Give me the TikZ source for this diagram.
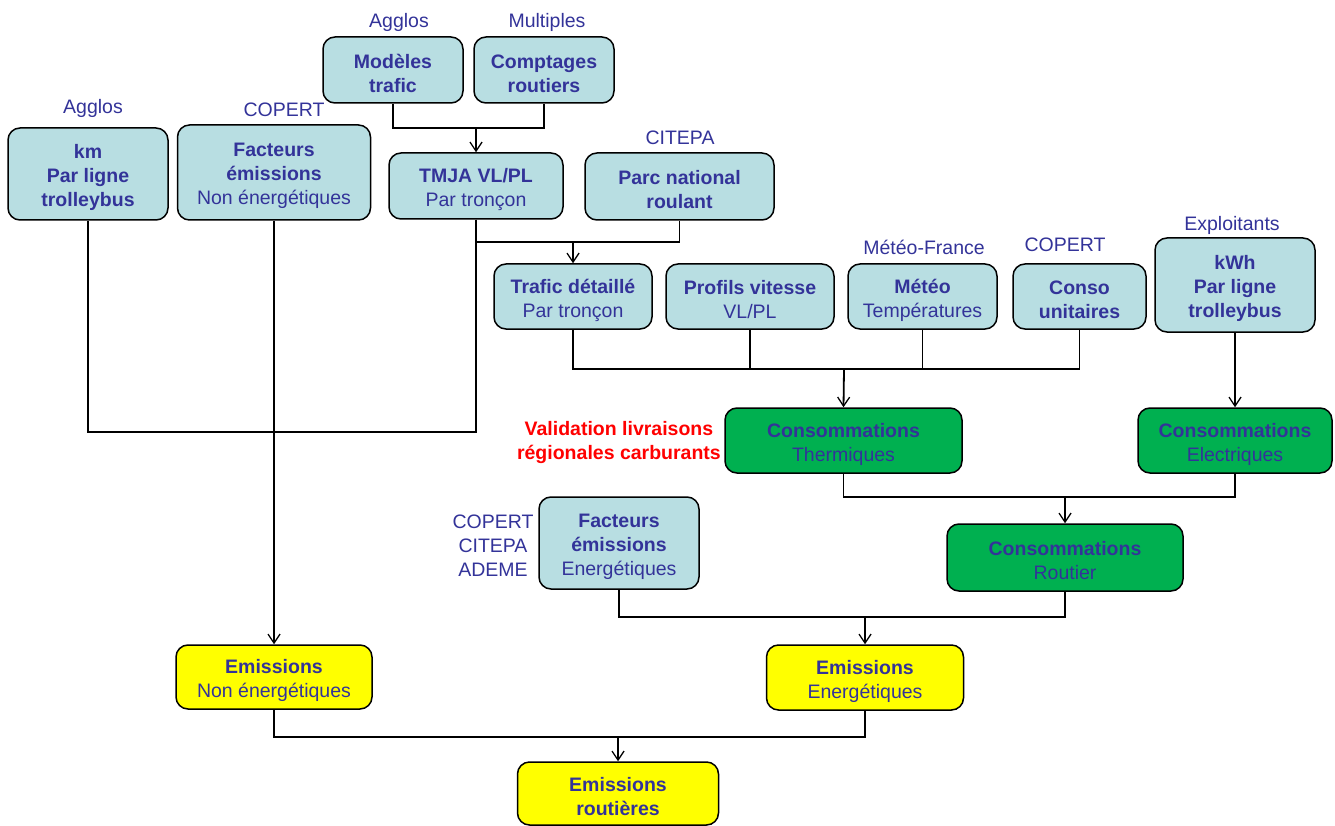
\documentclass[tikz,border=0pt]{standalone}
\usepackage{fontspec}
\setmainfont{Liberation Sans}
\usetikzlibrary{arrows.meta}
\definecolor{tblue}{RGB}{51,51,153}
\definecolor{lblue}{RGB}{184,222,226}
\definecolor{dgreen}{RGB}{0,176,80}
\definecolor{yel}{RGB}{255,255,0}
\newcommand\fsz{\fontsize{19.5}{24}\selectfont}
\tikzset{
  box/.style={draw=black, line width=1.5pt, rounded corners=12pt, inner sep=0pt},
  bbox/.style={box, fill=lblue},
  gbox/.style={box, fill=dgreen},
  ybox/.style={box, fill=yel},
  lab/.style={text=tblue, font=\fsz, inner sep=0pt, align=center},
  tx/.style={label={[lab, yshift=-3.5pt]center:#1}},
  conn/.style={draw=black, line width=1.3pt},
  arr/.style={conn, -{Straight Barb[length=9pt,width=12pt,line width=1.3pt]}},
}
\begin{document}
\begin{tikzpicture}[x=1pt,y=-1pt]
\useasboundingbox (0,0) rectangle (1335,826);
% boxes
\node[bbox, minimum width=160pt, minimum height=92pt, tx={\textbf{km}\\\textbf{Par ligne}\\\textbf{trolleybus}}] (km) at (88,174) {};
\node[bbox, minimum width=193pt, minimum height=95pt, tx={\textbf{Facteurs}\\\textbf{émissions}\\Non énergétiques}] (fne) at (274,172.5) {};
\node[bbox, minimum width=140pt, minimum height=66pt, tx={\textbf{Modèles}\\\textbf{trafic}}] (modeles) at (393,70) {};
\node[bbox, minimum width=140pt, minimum height=66pt, tx={\textbf{Comptages}\\\textbf{routiers}}] (comptages) at (544,70) {};
\node[bbox, minimum width=174pt, minimum height=66pt, tx={\textbf{TMJA VL/PL}\\Par tronçon}] (tmja) at (476,186) {};
\node[bbox, minimum width=189pt, minimum height=67pt, tx={\textbf{Parc national}\\\textbf{roulant}}] (parc) at (679.5,186.5) {};
\node[bbox, minimum width=158pt, minimum height=65pt, tx={\textbf{Trafic détaillé}\\Par tronçon}] (trafic) at (573,296.5) {};
\node[bbox, minimum width=168pt, minimum height=65pt, tx={\textbf{Profils vitesse}\\VL/PL}] (profils) at (750,296.5) {};
\node[bbox, minimum width=149pt, minimum height=65pt, tx={\textbf{Météo}\\Températures}] (meteo) at (922.5,296.5) {};
\node[bbox, minimum width=133pt, minimum height=65pt, tx={\textbf{Conso}\\\textbf{unitaires}}] (conso) at (1079.5,296.5) {};
\node[bbox, minimum width=160pt, minimum height=94pt, tx={\textbf{kWh}\\\textbf{Par ligne}\\\textbf{trolleybus}}] (kwh) at (1235,285) {};
\node[gbox, minimum width=237pt, minimum height=65pt, tx={\textbf{Consommations}\\Thermiques}] (therm) at (843.5,440.5) {};
\node[gbox, minimum width=194pt, minimum height=65pt, tx={\textbf{Consommations}\\Electriques}] (elec) at (1235,440.5) {};
\node[gbox, minimum width=236pt, minimum height=67pt, tx={\textbf{Consommations}\\Routier}] (routier) at (1065,557.5) {};
\node[bbox, minimum width=160pt, minimum height=92pt, tx={\textbf{Facteurs}\\\textbf{émissions}\\Energétiques}] (fe) at (619,543) {};
\node[ybox, minimum width=196pt, minimum height=64pt, tx={\textbf{Emissions}\\Non énergétiques}] (ene) at (274,677) {};
\node[ybox, minimum width=197pt, minimum height=65pt, tx={\textbf{Emissions}\\Energétiques}] (ee) at (865,677.5) {};
\node[ybox, minimum width=201pt, minimum height=63pt, tx={\textbf{Emissions}\\\textbf{routières}}] (er) at (618,793.5) {};
% labels
\node[lab] (lagg1) at (93,108) {Agglos};
\node[lab] (lcop1) at (284,110) {COPERT};
\node[lab] (lagg2) at (399,22) {Agglos};
\node[lab] (lmul) at (547,22) {Multiples};
\node[lab] (lcit) at (680,138) {CITEPA};
\node[lab] (lmf) at (924,247) {Météo-France};
\node[lab] (lcop2) at (1065,245) {COPERT};
\node[lab] (lexp) at (1232,225) {Exploitants};
\node[lab] (lsrc) at (493,546) {COPERT\\CITEPA\\ADEME};
\node[lab, text=red, anchor=east] (lval) at (721,442) {\textbf{Validation livraisons}\\\textbf{régionales carburants}};
% junctions
\coordinate (j1) at (476,128);
\coordinate (j2) at (573,242);
\coordinate (j3) at (476,432);
\coordinate (j4) at (844,369);
\coordinate (j5) at (1065,497);
\coordinate (j6) at (865,617);
\coordinate (j7) at (618,737);
% connectors
\draw[conn] (modeles.south) |- (j1) -| (comptages.south);
\draw[arr] (j1) -- (tmja.north);
\draw[conn] (tmja.south) |- (j2) -| (parc.south);
\draw[arr] (j2) -- (trafic.north);
\draw[conn] (tmja.south) -- (j3) -| (km.south);
\draw[arr, line width=1.8pt] (fne.south) -- (ene.north);
\draw[conn] (trafic.south) |- (conso.south |- j4) -- (conso.south);
\draw[conn] (profils.south) -- (profils.south |- j4);
\draw[conn] (meteo.south) -- (meteo.south |- j4);
\draw[arr, line width=1.8pt] (j4) -- (therm.north);
\draw[arr] (kwh.south) -- (elec.north);
\draw[conn] (therm.south) |- (j5) -| (elec.south);
\draw[arr] (j5) -- (routier.north);
\draw[conn] (fe.south) |- (j6) -| (routier.south);
\draw[arr] (j6) -- (ee.north);
\draw[conn] (ene.south) |- (j7) -| (ee.south);
\draw[arr] (j7) -- (er.north);
\end{tikzpicture}
\end{document}
